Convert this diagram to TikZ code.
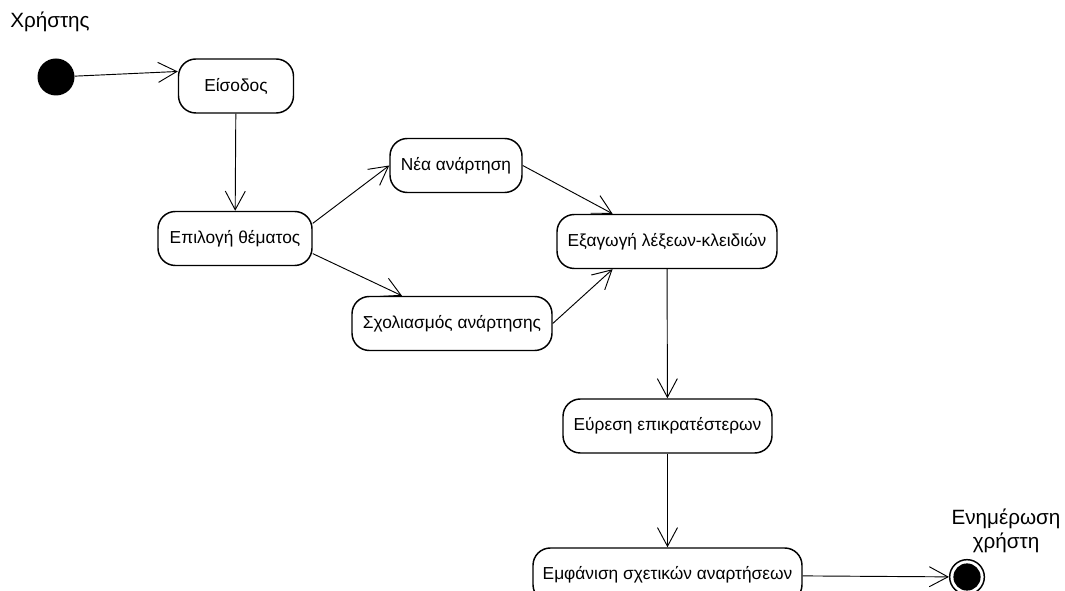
\documentclass[tikz,border=0pt]{standalone}
\usepackage{fontspec}
\setmainfont{Liberation Sans}
\usetikzlibrary{arrows.meta}
\tikzset{
  actstate/.style={draw, fill=white, rounded corners=13pt, line width=1.1pt,
    minimum height=40.5pt, inner sep=0pt, font=\fontsize{13}{15}\selectfont},
  flow/.style={-{Straight Barb[length=14pt,width=15pt]}, line width=0.7pt},
  lbl/.style={font=\fontsize{15.5}{17.5}\selectfont, align=center}
}

\begin{document}
\begin{tikzpicture}[x=0.75pt, y=-0.75pt]
  \useasboundingbox (0,0) rectangle (1065,591);
  \node[lbl] (user) at (50,22) {Χρήστης};
  \node[circle, fill=black, minimum size=27.75pt, inner sep=0pt] (init) at (56,77) {};
  \node[actstate, minimum width=86.25pt] (eisodos) at (236,86) {Είσοδος};
  \node[actstate, minimum width=115.5pt] (epilogi) at (235,238.5) {Επιλογή θέματος};
  \node[actstate, minimum width=99pt] (nea) at (456,165.5) {Νέα ανάρτηση};
  \node[actstate, minimum width=150pt] (sxol) at (452,323.5) {Σχολιασμός ανάρτησης};
  \node[actstate, minimum width=165pt] (exag) at (667,241.5) {Εξαγωγή λέξεων-κλειδιών};
  \node[actstate, minimum width=156.75pt] (evresi) at (667.5,426) {Εύρεση επικρατέστερων};
  \node[actstate, minimum width=201.75pt] (emfan) at (667.5,575) {Εμφάνιση σχετικών αναρτήσεων};
  \node[circle, draw, line width=1.1pt, minimum size=26pt, inner sep=0pt] (final) at (967,577) {};
  \fill (final) circle (10.2pt);
  \node[lbl] (update) at (1006,531) {Ενημέρωση\\χρήστη};
  \draw[flow] (init) -- (eisodos.166);
  \draw[flow] (eisodos) -- (epilogi);
  \draw[flow] (epilogi.11) -- (nea.west);
  \draw[flow] (epilogi.-11) -- (sxol.151);
  \draw[flow] (nea.east) -- (exag.153);
  \draw[flow] (sxol.east) -- (exag.207);
  \draw[flow] (exag) -- (evresi);
  \draw[flow] (evresi) -- (emfan);
  \draw[flow] (emfan) -- (final);
\end{tikzpicture}
\end{document}
